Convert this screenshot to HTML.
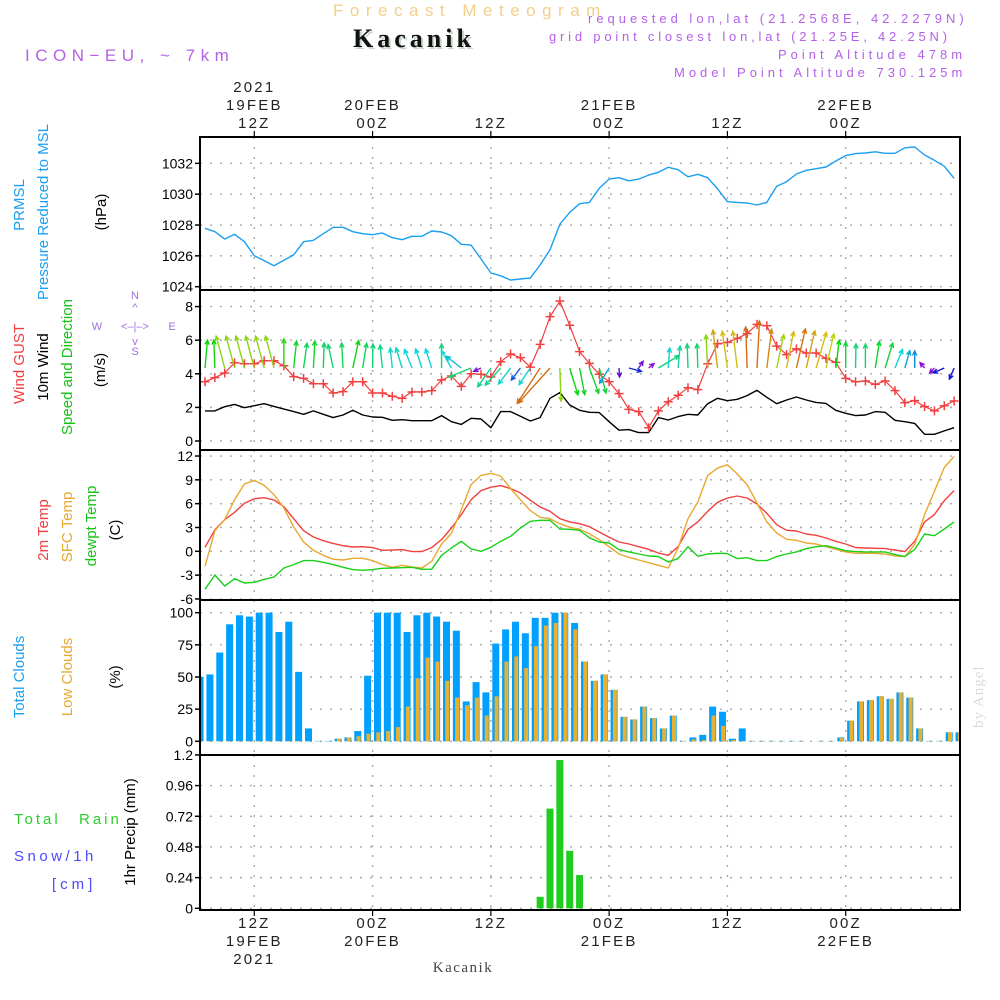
<!DOCTYPE html>
<html><head><meta charset="utf-8"><title>Meteogram Kacanik</title>
<style>
html,body{margin:0;padding:0;background:#fff;}
svg{display:block;font-family:"Liberation Sans",sans-serif;}
</style></head>
<body>
<svg id="chart" width="1000" height="1000" viewBox="0 0 1000 1000" xmlns="http://www.w3.org/2000/svg">
<rect x="0" y="0" width="1000" height="1000" fill="#fff"/>
<text x="333" y="16" font-size="17" fill="#f3cf8d" letter-spacing="6.5">Forecast Meteogram</text>
<text x="355" y="49" font-size="26" font-weight="bold" font-family="Liberation Serif, serif" fill="#c8d8c8" letter-spacing="4">Kacanik</text>
<text x="353" y="47" font-size="26" font-weight="bold" font-family="Liberation Serif, serif" fill="#111" letter-spacing="4">Kacanik</text>
<text x="25" y="61" font-size="17" fill="#b460e8" letter-spacing="5.5">ICON−EU, ~ 7km</text>
<g font-size="13" fill="#b460e8" letter-spacing="4">
<text x="588" y="23">requested lon,lat (21.2568E, 42.2279N)</text>
<text x="549" y="41" letter-spacing="3.8">grid point closest lon,lat (21.25E, 42.25N)</text>
<text x="778" y="59">Point Altitude 478m</text>
<text x="674" y="77">Model Point Altitude 730.125m</text>
</g>
<g id="grid"></g>
<g id="marks"></g>
<g id="frames"></g>
<g id="labels"></g>
<text x="463" y="972" font-size="15" font-family="Liberation Serif, serif" fill="#444" text-anchor="middle" letter-spacing="1.5">Kacanik</text>
<text transform="translate(983,728) rotate(-90)" font-size="15" font-family="Liberation Serif, serif" fill="#d8ddd8" letter-spacing="1">by Angel</text>
</svg>
<script>
// ---------- DATA (hourly from 19FEB 07Z, t = 0..76) ----------
const pressure = [1027.79,1027.57,1027.09,1027.40,1026.92,1026.01,1025.69,1025.36,1025.71,1026.06,1026.92,1027.01,1027.44,1027.85,1027.85,1027.57,1027.44,1027.37,1027.48,1027.18,1027.05,1027.27,1027.27,1027.61,1027.55,1027.31,1026.75,1026.70,1025.80,1024.89,1024.71,1024.43,1024.50,1024.56,1025.41,1026.40,1028.05,1028.82,1029.38,1029.47,1030.38,1030.98,1031.07,1030.87,1030.98,1031.24,1031.42,1031.74,1031.59,1031.13,1031.29,1031.07,1030.34,1029.51,1029.47,1029.43,1029.30,1029.47,1030.51,1030.81,1031.31,1031.55,1031.65,1031.76,1032.15,1032.50,1032.63,1032.67,1032.75,1032.65,1032.65,1033.01,1033.06,1032.54,1032.20,1031.81,1031.03];
const windSpeed = [1.79,1.79,2.04,2.18,1.98,2.10,2.22,2.06,1.90,1.75,1.59,1.79,1.59,1.39,1.55,1.83,1.55,1.43,1.41,1.23,1.27,1.21,1.21,1.21,1.51,1.15,0.99,1.35,1.31,0.79,1.75,1.75,1.47,1.19,1.39,2.54,2.88,2.14,1.83,1.71,1.69,1.15,0.64,0.68,0.50,0.50,1.39,1.25,1.45,1.59,1.55,2.22,2.54,2.40,2.48,2.70,3.02,2.60,2.22,2.44,2.62,2.44,2.30,2.24,1.83,1.65,1.51,1.55,1.75,1.71,1.23,1.15,1.05,0.40,0.40,0.60,0.79];
const windGust = [3.53,3.77,4.05,4.66,4.60,4.60,4.78,4.78,4.48,3.83,3.73,3.41,3.41,2.86,2.94,3.53,3.53,2.86,2.86,2.66,2.54,2.92,2.92,3.00,3.63,3.87,3.25,4.00,3.97,3.81,4.72,5.18,4.96,4.40,5.75,7.40,8.33,6.89,5.32,4.62,3.97,3.53,2.82,1.88,1.75,0.79,1.79,2.34,2.72,3.17,3.06,4.60,5.79,5.87,6.11,6.39,6.94,6.86,5.65,5.14,5.48,5.24,5.24,4.92,4.68,3.73,3.53,3.57,3.37,3.57,3.00,2.28,2.40,2.05,1.79,2.10,2.38];
// arrow direction (deg clockwise from north, direction it points) and arrow length (px)
const windDir = [5,-2,-15,-15,-15,-15,-15,-15,0,6,8,3,2,-12,-3,12,9,1,-6,-6,-17,-22,-18,-18,0,-30,-52,-112,-115,-145,-138,-143,-143,-146,-147,-138,178,163,169,160,165,-148,176,105,33,51,59,4,5,-2,-2,-3,-7,-8,-7,-2,3,7,12,11,13,13,16,13,7,0,1,0,9,17,22,16,0,-40,-137,-114,-157];
const windArrowLen = [28,28,33,33,33,33,33,33,29,27,25,27,25,24,25,28,25,24,23,20,21,20,20,20,24,20,19,24,8,23,23,20,15,20,42,47,33,28,27,27,26,18,9,13,8,7,24,20,22,24,24,33,38,37,37,41,47,39,34,37,40,38,37,35,28,26,24,24,27,26,20,18,17,7,7,12,12];
const temp2m = [0.5,2.72,3.98,4.91,6.05,6.63,6.75,6.46,5.62,4.1,2.6,1.8,1.34,1.0,0.71,0.54,0.58,0.46,0.13,0.17,0.21,-0.04,-0.04,0.46,1.47,2.94,4.62,6.5,7.65,8.07,8.28,7.9,7.35,6.43,5.58,5.04,4.1,3.7,3.48,3.1,2.43,1.76,1.17,0.92,0.58,0.25,-0.21,-0.5,0.58,2.77,3.7,5.04,6.17,6.71,6.97,6.71,5.96,4.78,3.35,2.64,2.56,2.18,2.01,1.68,1.26,0.92,0.46,0.42,0.38,0.34,0.17,-0.04,1.26,3.7,4.62,6.38,7.65];
const tempSfc = [-1.89,2.6,3.98,6.5,8.48,8.94,8.31,7.13,5.45,3.06,1.17,0.13,-0.5,-1.0,-1.09,-0.88,-0.88,-1.17,-1.68,-2.01,-1.76,-1.97,-2.1,-1.26,0.92,2.26,5.24,8.4,9.56,9.82,9.48,7.9,6.5,5.12,4.28,4.1,3.48,3.02,2.78,2.2,1.47,0.58,-0.34,-0.76,-1.09,-1.43,-1.76,-2.1,0.42,4.1,6.2,9.56,10.48,10.9,9.73,8.4,6.08,3.7,2.31,1.51,1.39,1.05,0.92,0.58,0.25,-0.08,-0.25,-0.25,-0.25,-0.34,-0.59,-0.67,0.84,4.62,7.56,10.56,11.95];
const dewpt = [-4.79,-2.98,-4.37,-3.45,-3.99,-3.91,-3.53,-3.24,-2.1,-1.68,-1.17,-1.17,-1.38,-1.68,-2.01,-2.31,-2.39,-2.31,-2.14,-2.1,-2.06,-2.01,-2.27,-2.27,-0.5,0.42,1.26,0.29,0.0,0.5,1.26,1.89,2.94,3.78,3.9,3.9,2.81,2.77,2.65,1.7,1.17,1.05,0.21,-0.08,-0.34,-0.59,-0.67,-1.34,-0.92,0.58,-0.63,-0.34,-0.25,-0.29,-0.92,-0.8,-1.17,-1.17,-0.67,-0.34,-0.08,0.34,0.58,0.71,0.42,0.08,-0.04,-0.08,-0.08,-0.08,-0.42,-0.67,0.21,2.18,1.97,2.81,3.7];
// clouds: hourly bars for t = -1 .. 76
const totalClouds = [50,52,69,91,98,97,100,100,85,93,54,10,0.3,0.3,2,3,8,51,100,100,100,85,98,100,97,93,86,31,46,38,76,87,93,84,96,96,100,100,92,62,47,52,40,19,17,27,18,10,20,0.3,3,5,27,23,2,10,0.3,0.3,0.3,0.3,0.3,0.3,0,0.3,0.3,3,16,31,32,35,33,38,34,10,0.3,0.3,7,7];
const lowClouds = [0,0.3,0.3,0.3,0.3,0.3,0.3,0.3,0.3,0.3,0.3,0,0,0,2,3,4,6,7,8,11,27,49,65,62,47,34,28,34,20,35,62,66,57,74,90,92,100,87,62,47,52,40,19,17,27,18,10,20,0.3,1.5,1,20,12,1,0.3,0.3,0.3,0.3,0.3,0.3,0.3,0,0.3,0.3,2.6,16,31,32,35,33,38,34,10,0.3,0.3,7,7];
// precipitation (mm/1h) at hours t = 34..38
const precipHours = [34,35,36,37,38];
const precipRain = [0.09,0.78,1.16,0.45,0.26];
// axis ticks
const presTicks = [1024,1026,1028,1030,1032];
const windTicks = [0,2,4,6,8];
const tempTicks = [-6,-3,0,3,6,9,12];
const cloudTicks = [0,25,50,75,100];
const precipTicks = [0,0.24,0.48,0.72,0.96,1.2];
const precipTickLabels = ["0","0.24","0.48","0.72","0.96","1.2"];
const timeTicks = [5,17,29,41,53,65];
const topTimeLabels = [["2021","19FEB","12Z"],["","20FEB","00Z"],["","","12Z"],["","21FEB","00Z"],["","","12Z"],["","22FEB","00Z"]];
const bottomTimeLabels = [["12Z","19FEB","2021"],["00Z","20FEB",""],["12Z","",""],["00Z","21FEB",""],["12Z","",""],["00Z","22FEB",""]];

// ---------- SCALES ----------
const X0 = 200, X1 = 960;
function xs(t){ return 205 + 9.857*t; }
function yP(p){ return 286.7 - (p-1024)*15.42; }
function yW(v){ return 441 - v*16.8; }
function yT(v){ return 551.3 - v*7.94; }
function yC(c){ return 741.3 - c*1.286; }
function yR(r){ return 908.3 - r*127.8; }
const panels = [
  {name:'pressure', top:137, bot:290, f:yP, ticks:presTicks},
  {name:'wind', top:290, bot:450, f:yW, ticks:windTicks},
  {name:'temperature', top:450, bot:600, f:yT, ticks:tempTicks},
  {name:'clouds', top:600, bot:755, f:yC, ticks:cloudTicks},
  {name:'precip', top:755, bot:910, f:yR, ticks:precipTicks}
];
const NS = 'http://www.w3.org/2000/svg';
function mk(tag, attrs, parent){
  const e = document.createElementNS(NS, tag);
  for (const k in attrs) e.setAttribute(k, attrs[k]);
  parent.appendChild(e);
  return e;
}
const gGrid = document.getElementById('grid');
const gMarks = document.getElementById('marks');
const gFrames = document.getElementById('frames');
const gLabels = document.getElementById('labels');

const defs = mk('defs', {}, document.getElementById('chart'));
const cp = mk('clipPath', {id:'plotclip'}, defs);
mk('rect', {x:X0, y:137, width:X1-X0, height:773}, cp);
gMarks.setAttribute('clip-path','url(#plotclip)');

// ---------- GRID, TICKS, FRAMES ----------
panels.forEach((p, pi) => {
  p.ticks.forEach((v, i) => {
    const y = p.f(v);
    const gl = mk('line', {x1:X0, x2:X1, y1:y, y2:y, stroke:'#aaa', 'stroke-width':1.4, 'stroke-dasharray':'2,8'}, gGrid);
    
    
    const tk = mk('line', {x1:X0-5, x2:X0, y1:y, y2:y, stroke:'#000', 'stroke-width':1.5}, gFrames);
    
    
    const lab = mk('text', {x:X0-7, y:y+5, 'font-size':14, 'text-anchor':'end', fill:'#000'}, gLabels);
    lab.textContent = p.name === 'precip' ? precipTickLabels[i] : String(v);
    
    
  });
  timeTicks.forEach(t => {
    const x = xs(t);
    const vl = mk('line', {x1:x, x2:x, y1:p.top, y2:p.bot, stroke:'#aaa', 'stroke-width':1.4, 'stroke-dasharray':'2,8'}, gGrid);
    
    
  });
  const fr = mk('rect', {x:X0, y:p.top, width:X1-X0, height:p.bot-p.top, fill:'none', stroke:'#000', 'stroke-width':2}, gFrames);
  
  
});
timeTicks.forEach((t, i) => {
  const x = xs(t);
  mk('line', {x1:x, x2:x, y1:131, y2:137, stroke:'#000', 'stroke-width':1.2}, gFrames);
  mk('line', {x1:x, x2:x, y1:910, y2:916, stroke:'#000', 'stroke-width':1.2}, gFrames);
  topTimeLabels[i].forEach((s, j) => {
    if (!s) return;
    const tx = mk('text', {x:x, y:92+j*18, 'font-size':15, 'text-anchor':'middle', fill:'#222', 'letter-spacing':2.2}, gLabels);
    tx.textContent = s;
    
    
  });
  bottomTimeLabels[i].forEach((s, j) => {
    if (!s) return;
    const tx = mk('text', {x:x, y:928+j*18, 'font-size':15, 'text-anchor':'middle', fill:'#222', 'letter-spacing':2.2}, gLabels);
    tx.textContent = s;
    
    
  });
});

// ---------- SERIES ----------
function polyline(vals, f, color, name, w){
  const pts = vals.map((v, t) => xs(t).toFixed(1) + ',' + f(v).toFixed(1)).join(' ');
  const pl = mk('polyline', {points:pts, fill:'none', stroke:color, 'stroke-width':w||1.4, 'stroke-linejoin':'round'}, gMarks);
  
  
}
polyline(pressure, yP, '#1a9ff0', 'pressure-line');
polyline(windSpeed, yW, '#000', 'wind-speed-line');
polyline(windGust, yW, '#f04040', 'wind-gust-line', 1.2);
windGust.forEach((v, t) => {
  const x = xs(t), y = yW(v);
  const m = mk('path', {d:`M${x-4.5},${y}H${x+4.5}M${x},${y-4.5}V${y+4.5}`, stroke:'#f04040', 'stroke-width':1.5}, gMarks);
  
  
});
windDir.forEach((d, t) => {
  const L = windArrowLen[t];
  const hue = Math.max(28, Math.min(280, 330 - 7.5*L));
  const col = `hsl(${hue},85%,45%)`;
  const bx = xs(t), by = 368;
  const a = d*Math.PI/180;
  const tx = bx + L*Math.sin(a), ty = by - L*Math.cos(a);
  const h = 5, sp = 0.45;
  const h1x = tx - h*Math.sin(a - sp), h1y = ty + h*Math.cos(a - sp);
  const h2x = tx - h*Math.sin(a + sp), h2y = ty + h*Math.cos(a + sp);
  const ar = mk('path', {d:`M${bx},${by}L${tx},${ty}M${h1x},${h1y}L${tx},${ty}L${h2x},${h2y}`, stroke:col, 'stroke-width':1.4, fill:'none'}, gMarks);
  
  
});
polyline(temp2m, yT, '#f04040', 'temp-2m-line');
polyline(tempSfc, yT, '#e8a830', 'temp-sfc-line');
polyline(dewpt, yT, '#18d018', 'dewpoint-line');
totalClouds.forEach((c, i) => {
  const t = i - 1;
  const cx = xs(t + 0.5);
  const b = mk('rect', {x:cx-3.5, y:yC(c), width:7, height:yC(0)-yC(c), fill:'#00a0ff'}, gMarks);
  
  
});
lowClouds.forEach((c, i) => {
  const t = i - 1;
  const cx = xs(t + 0.5);
  const b = mk('rect', {x:cx-1.2, y:yC(c), width:4, height:yC(0)-yC(c), fill:'#e8b030'}, gMarks);
  
  
});
precipRain.forEach((r, i) => {
  const cx = xs(precipHours[i]);
  const b = mk('rect', {x:cx-3.5, y:yR(r), width:7, height:yR(0)-yR(r), fill:'#20cc20'}, gMarks);
  
  
});

// ---------- AXIS TITLES ----------
function vtext(x, y, s, color, name, size){
  const e = mk('text', {transform:`translate(${x},${y}) rotate(-90)`, 'font-size':size||15, 'text-anchor':'middle', fill:color}, gLabels);
  e.textContent = s;
  
  
}
vtext(24, 205, 'PRMSL', '#1a9ff0', 'pressure-title-prmsl');
vtext(48, 212, 'Pressure Reduced to MSL', '#1a9ff0', 'pressure-title');
vtext(106, 212, '(hPa)', '#000', 'pressure-unit');
vtext(24, 364, 'Wind GUST', '#f04040', 'wind-gust-title');
vtext(48, 367, '10m Wind', '#000', 'wind-title');
vtext(72, 367, 'Speed and Direction', '#18c018', 'wind-direction-title');
vtext(105, 370, '(m/s)', '#000', 'wind-unit');
vtext(48, 530, '2m Temp', '#f04040', 'temp-2m-title');
vtext(72, 527, 'SFC Temp', '#e8a830', 'temp-sfc-title');
vtext(96, 526, 'dewpt Temp', '#18c018', 'dewpoint-title');
vtext(120, 530, '(C)', '#000', 'temp-unit');
vtext(24, 677, 'Total Clouds', '#1a9ff0', 'total-clouds-title');
vtext(72, 677, 'Low Clouds', '#e8a830', 'low-clouds-title');
vtext(120, 677, '(%)', '#000', 'clouds-unit');
vtext(135, 832, '1hr Precip (mm)', '#000', 'precip-title');
</script>
<svg style="position:absolute;left:0;top:0" width="200" height="400" font-family="Liberation Sans, sans-serif" font-size="11" fill="#a070e0">
<text x="135" y="299" text-anchor="middle">N</text>
<text x="135" y="311" text-anchor="middle">^</text>
<text x="135" y="355" text-anchor="middle">S</text>
<text x="135" y="345" text-anchor="middle">v</text>
<text x="97" y="330" text-anchor="middle">W</text>
<text x="172" y="330" text-anchor="middle">E</text>
<text x="135" y="330" text-anchor="middle">&lt;–|–&gt;</text>
</svg>
<svg style="position:absolute;left:0;top:0" width="200" height="1000" font-family="Liberation Sans, sans-serif" font-size="15" letter-spacing="3">
<text x="14" y="824" fill="#2ad02a">Total</text>
<text x="79" y="824" fill="#2ad02a">Rain</text>
<text x="14" y="861" fill="#4a4aff" letter-spacing="3.5">Snow/1h</text>
<text x="52" y="889" fill="#4a4aff" letter-spacing="4">[cm]</text>
</svg>
</body></html>
